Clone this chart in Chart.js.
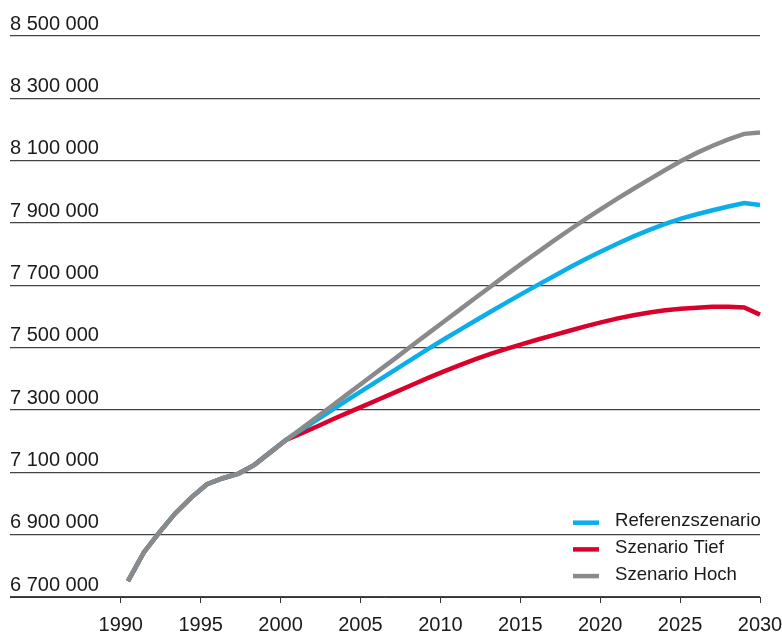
<!DOCTYPE html>
<html>
<head>
<meta charset="utf-8">
<script src="https://cdn.jsdelivr.net/npm/chart.js@4"></script>
<style>
  html, body { margin: 0; padding: 0; background: #ffffff; }
  #wrap { width: 782px; height: 636px; position: relative; }
</style>
</head>
<body>
<div id="wrap"><canvas id="c" width="782" height="636"></canvas></div>
<script>
// ---- data ----
const years = [1990,1991,1992,1993,1994,1995,1996,1997,1998,1999,2000,
  2001,2002,2003,2004,2005,2006,2007,2008,2009,2010,
  2011,2012,2013,2014,2015,2016,2017,2018,2019,2020,
  2021,2022,2023,2024,2025,2026,2027,2028,2029,2030];

const history = [6751000,6843000,6908000,6969000,7019000,7062000,7081000,7096000,7124000,7164000,7204000];

const referenz = [7237000,7270000,7303000,7336000,7368000,7400000,7432000,7464000,7496000,7527000,
  7557000,7587000,7617000,7646000,7675000,7703000,7731000,7759000,7785000,7810000,
  7834000,7857000,7878000,7897000,7914000,7928000,7941000,7953000,7964000,7958000];

const tief = [7226000,7248000,7271000,7293000,7315000,7337000,7359000,7381000,7403000,7424000,
  7444000,7463000,7481000,7497000,7512000,7527000,7541000,7555000,7569000,7582000,
  7594000,7604000,7613000,7620000,7625000,7628000,7631000,7631000,7629000,7606000];

const hoch = [7241000,7279000,7317000,7355000,7393000,7431000,7469000,7508000,7546000,7584000,
  7622000,7660000,7698000,7736000,7773000,7809000,7845000,7880000,7914000,7947000,
  7979000,8010000,8040000,8070000,8099000,8125000,8148000,8168000,8186000,8190000];

const seriesLabels = ['Referenzszenario', 'Szenario Tief', 'Szenario Hoch'];
const xTickYears = [1990,1995,2000,2005,2010,2015,2020,2025,2030];
const yMin = 6700000, yMax = 8500000, yStep = 200000;

// ---- build ----
function pts(future) {
  const all = history.concat(future);
  return years.map((y, i) => ({ x: y, y: all[i] }));
}
function fmt(v) {
  return String(Math.round(v)).replace(/\B(?=(\d{3})+(?!\d))/g, ' ');
}

const colors = ['#0aaee9', '#d9002b', '#8a8a8a'];
const FONT = "'Liberation Sans', Arial, sans-serif";

const legendPlugin = {
  id: 'insideLegend',
  afterDatasetsDraw(chart) {
    const ctx = chart.ctx;
    ctx.save();
    seriesLabels.forEach((lab, i) => {
      const y = 522.7 + 26.7 * i;
      ctx.strokeStyle = colors[i];
      ctx.lineWidth = 4.5;
      ctx.lineCap = 'butt';
      ctx.beginPath();
      ctx.moveTo(573, y);
      ctx.lineTo(599, y);
      ctx.stroke();
      ctx.fillStyle = '#1a1a1a';
      ctx.font = '18.6px ' + FONT;
      ctx.textBaseline = 'alphabetic';
      ctx.textAlign = 'left';
      ctx.fillText(lab, 615, y + 3.5);
    });
    ctx.restore();
  }
};

const datasets = [
  { label: seriesLabels[0], data: pts(referenz), borderColor: colors[0], order: 2 },
  { label: seriesLabels[1], data: pts(tief), borderColor: colors[1], order: 3 },
  { label: seriesLabels[2], data: pts(hoch), borderColor: colors[2], order: 1 }
].map(d => Object.assign(d, {
  xAxisID: 'xd', yAxisID: 'y', borderWidth: 4.5, pointRadius: 0, tension: 0,
  fill: false, clip: false, borderCapStyle: 'butt', borderJoinStyle: 'miter'
}));

new Chart(document.getElementById('c'), {
  type: 'line',
  data: { datasets },
  plugins: [legendPlugin],
  options: {
    responsive: false,
    animation: false,
    layout: { padding: { left: 10, right: 22, top: 36, bottom: 0 } },
    plugins: { legend: { display: false }, tooltip: { enabled: false } },
    scales: {
      x: {
        type: 'linear', position: 'bottom',
        min: 1983.07, max: 2030,
        afterBuildTicks: (axis) => { axis.ticks = xTickYears.map(v => ({ value: v })); },
        afterFit: (s) => { s.height = 39; s.paddingLeft = 0; s.paddingRight = 0; },
        grid: { drawOnChartArea: false, drawTicks: true, tickLength: 6, color: '#333', lineWidth: 1 },
        border: { display: true, color: '#333', width: 1 },
        ticks: {
          color: '#1a1a1a', padding: 10.5, maxRotation: 0, autoSkip: false,
          font: { family: FONT, size: 20 },
          callback: (v) => String(v)
        }
      },
      xd: {
        type: 'linear', position: 'bottom', display: false,
        min: 1982.532, max: 2030
      },
      y: {
        type: 'linear', position: 'left',
        min: yMin, max: yMax,
        afterBuildTicks: (axis) => {
          const t = [];
          for (let v = yMin; v <= yMax; v += yStep) t.push({ value: v });
          axis.ticks = t;
        },
        afterFit: (s) => { s.width = 0; s.paddingTop = 0; s.paddingBottom = 0; },
        grid: { drawTicks: false, color: '#444', lineWidth: 1.3 },
        border: { display: false },
        ticks: {
          mirror: true, padding: 0, labelOffset: -12,
          color: '#1a1a1a', font: { family: FONT, size: 20 },
          callback: (v) => fmt(v)
        }
      }
    }
  }
});
</script>
</body>
</html>
